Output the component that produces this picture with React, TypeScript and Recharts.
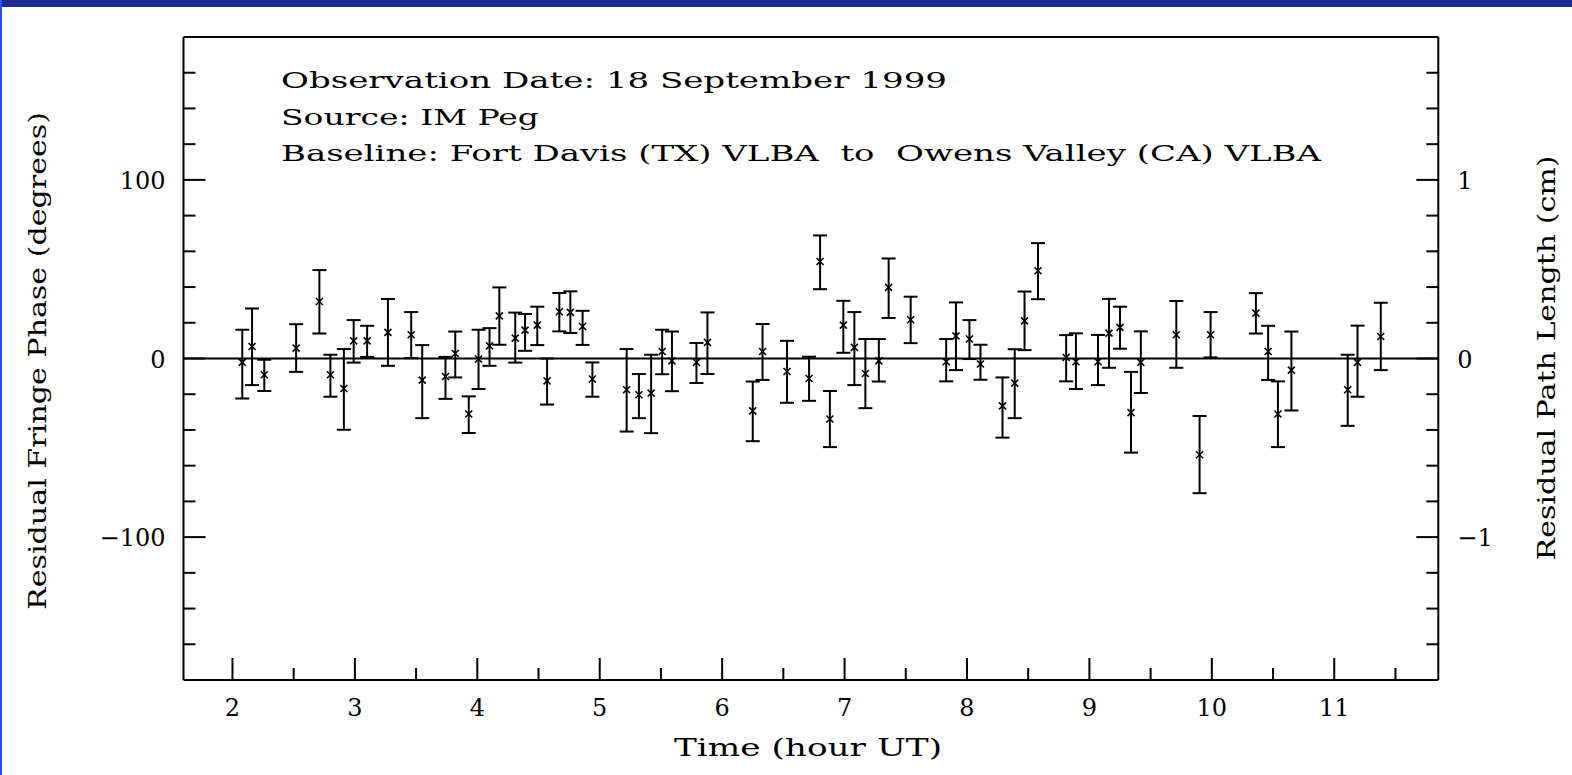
import React from 'react';
import { ScatterChart, Scatter, XAxis, YAxis, ErrorBar, ReferenceLine } from 'recharts';

// Observation times (hour UT)
const times = [2.08, 2.16, 2.26, 2.52, 2.71, 2.80, 2.91, 2.99, 3.10, 3.27, 3.46, 3.55, 3.74, 3.82, 3.93, 4.01, 4.10, 4.18, 4.31, 4.39, 4.49, 4.57, 4.67, 4.76, 4.86, 4.94, 5.22, 5.32, 5.42, 5.51, 5.59, 5.79, 5.88, 6.25, 6.33, 6.53, 6.71, 6.80, 6.88, 6.99, 7.08, 7.17, 7.28, 7.36, 7.54, 7.83, 7.91, 8.02, 8.11, 8.29, 8.39, 8.47, 8.58, 8.81, 8.89, 9.07, 9.16, 9.25, 9.34, 9.42, 9.71, 9.90, 9.99, 10.36, 10.46, 10.54, 10.65, 11.11, 11.19, 11.38];

// Residual fringe phase (degrees)
const phases = [-2.2, 6.7, -9.1, 5.8, 31.9, -9.1, -16.8, 9.9, 9.9, 14.6, 13.3, -12.1, -10.1, 2.8, -31.1, -0.3, 7.1, 23.9, 11.4, 15.9, 18.7, -12.5, 26.2, 25.8, 17.9, -11.5, -17.5, -20.3, -19.4, 3.9, -1.3, -2.2, 9.0, -29.3, 3.9, -7.3, -11.2, 54.3, -33.9, 18.7, 6.2, -8.4, -1.3, 39.8, 21.7, -1.8, 12.7, 10.9, -3.1, -26.5, -13.8, 21.1, 49.1, 0.6, -1.8, -1.8, 14.2, 17.4, -30.3, -2.2, 13.3, -53.9, 13.3, 25.4, 3.9, -31.1, -6.5, -17.5, -2.2, 12.3];

// Error bar extents (degrees) below and above each point
const errMinus = [20.2, 21.6, 9.1, 13.3, 17.9, 12.3, 23.1, 12.2, 9.0, 18.7, 13.1, 21.3, 12.5, 13.4, 10.6, 16.8, 11.2, 16.2, 13.7, 11.6, 11.2, 13.3, 11.0, 11.5, 10.3, 9.9, 23.4, 13.1, 22.4, 12.7, 17.0, 11.5, 17.7, 17.0, 15.9, 17.5, 12.5, 15.5, 15.7, 15.5, 21.1, 19.4, 11.6, 17.1, 13.1, 11.0, 19.2, 11.2, 8.8, 17.8, 19.6, 16.4, 15.9, 13.4, 15.3, 13.1, 19.4, 11.9, 22.4, 17.1, 18.5, 21.5, 12.7, 11.4, 15.9, 18.5, 22.6, 20.2, 19.2, 18.8];
const errPlus = [18.3, 21.3, 8.4, 13.4, 17.6, 11.2, 22.1, 11.6, 8.4, 18.7, 12.7, 19.6, 11.0, 12.3, 9.9, 16.4, 9.9, 15.9, 14.3, 9.0, 10.3, 12.5, 10.5, 11.8, 8.8, 9.3, 22.8, 11.6, 21.5, 12.2, 16.4, 10.9, 16.8, 16.4, 15.4, 17.2, 12.2, 14.6, 15.7, 13.6, 19.8, 19.3, 12.2, 16.2, 12.9, 12.7, 18.7, 10.6, 10.8, 15.9, 19.0, 16.4, 15.5, 12.5, 15.9, 15.0, 19.2, 11.6, 22.8, 17.4, 18.9, 21.7, 12.7, 11.2, 14.4, 18.3, 21.6, 19.6, 20.6, 18.9];

// Axis ticks
const xTicks = [2, 2.5, 3, 3.5, 4, 4.5, 5, 5.5, 6, 6.5, 7, 7.5, 8, 8.5, 9, 9.5, 10, 10.5, 11, 11.5];
const xLabelTicks = [2, 3, 4, 5, 6, 7, 8, 9, 10, 11];
const degTicks = [-160, -140, -120, -100, -80, -60, -40, -20, 0, 20, 40, 60, 80, 100, 120, 140, 160];
const degLabels: Record<string, string> = { '-100': '\u2212100', '0': '0', '100': '100' };
const cmTicks = [-1.6, -1.4, -1.2, -1, -0.8, -0.6, -0.4, -0.2, 0, 0.2, 0.4, 0.6, 0.8, 1, 1.2, 1.4, 1.6];
const cmLabels: Record<string, string> = { '-1': '\u22121', '0': '0', '1': '1' };

const annotations = [
  'Observation Date: 18 September 1999',
  'Source: IM Peg',
  'Baseline: Fort Davis (TX) VLBA  to  Owens Valley (CA) VLBA',
];
const xTitle = 'Time (hour UT)';
const yLeftTitle = 'Residual Fringe Phase (degrees)';
const yRightTitle = 'Residual Path Length (cm)';

const rows = times.map((t, i) => ({ t, phase: phases[i], err: [errMinus[i], errPlus[i]] }));

const FONT = '"DejaVu Serif", "Liberation Serif", serif';
const MAJOR = 22;
const MINOR = 12;
const near = (a: number, b: number) => Math.abs(a - b) < 1e-6;

function BottomTick(props: any) {
  const { x, y, payload } = props;
  const v = payload.value;
  const major = xLabelTicks.some((m) => near(m, v));
  return (
    <g>
      <line x1={x} x2={x} y1={y} y2={y - (major ? MAJOR : MINOR)} stroke="#000" strokeWidth={2} />
      {major && (
        <text x={x} y={y + 36} textAnchor="middle" fontFamily={FONT} fontSize={24} fill="#000">
          {String(v)}
        </text>
      )}
    </g>
  );
}

function TopTick(props: any) {
  const { x, y, payload } = props;
  const v = payload.value;
  const major = xLabelTicks.some((m) => near(m, v));
  return <line x1={x} x2={x} y1={y} y2={y + (major ? MAJOR : MINOR)} stroke="#000" strokeWidth={2} />;
}

function LeftTick(props: any) {
  const { x, y, payload } = props;
  const v = payload.value;
  const key = String(Math.round(v));
  const major = near(v % 100, 0);
  return (
    <g>
      <line x1={x} x2={x + (major ? MAJOR : MINOR)} y1={y} y2={y} stroke="#000" strokeWidth={2} />
      {major && degLabels[key] !== undefined && (
        <text x={x - 18} y={y + 9} textAnchor="end" fontFamily={FONT} fontSize={24} fill="#000">
          {degLabels[key]}
        </text>
      )}
    </g>
  );
}

function RightTick(props: any) {
  const { x, y, payload } = props;
  const v = payload.value;
  const major = near(v, Math.round(v));
  const key = String(Math.round(v));
  return (
    <g>
      <line x1={x} x2={x - (major ? MAJOR : MINOR)} y1={y} y2={y} stroke="#000" strokeWidth={2} />
      {major && cmLabels[key] !== undefined && (
        <text x={x + 19} y={y + 9} textAnchor="start" fontFamily={FONT} fontSize={24} fill="#000">
          {cmLabels[key]}
        </text>
      )}
    </g>
  );
}

function CrossMarker(props: any) {
  const { cx, cy } = props;
  if (cx == null || cy == null) return null;
  const s = 3.5;
  return (
    <g>
      <line x1={cx - s} y1={cy - s} x2={cx + s} y2={cy + s} stroke="#000" strokeWidth={1.6} />
      <line x1={cx - s} y1={cy + s} x2={cx + s} y2={cy - s} stroke="#000" strokeWidth={1.6} />
    </g>
  );
}

const axisLine = { stroke: '#000', strokeWidth: 2 };

export default function App() {
  return (
    <div style={{ position: 'absolute', left: 0, top: 0, width: 1572, height: 775, background: '#fff', overflow: 'hidden' }}>
      <style>{'body{margin:0;background:#fff;}'}</style>
      <ScatterChart width={1572} height={775} margin={{ top: 0, right: 0, bottom: 0, left: 0 }}>
        <XAxis
          xAxisId="b"
          dataKey="t"
          type="number"
          orientation="bottom"
          domain={[1.6, 11.85]}
          allowDataOverflow
          ticks={xTicks}
          interval={0}
          height={95}
          tickSize={0}
          tickMargin={0}
          tickLine={false}
          axisLine={axisLine}
          tick={<BottomTick />}
        />
        <XAxis
          xAxisId="t"
          type="number"
          orientation="top"
          domain={[1.6, 11.85]}
          allowDataOverflow
          ticks={xTicks}
          interval={0}
          height={37}
          tickSize={0}
          tickMargin={0}
          tickLine={false}
          axisLine={axisLine}
          tick={<TopTick />}
        />
        <YAxis
          yAxisId="l"
          dataKey="phase"
          type="number"
          orientation="left"
          domain={[-180, 180]}
          allowDataOverflow
          ticks={degTicks}
          interval={0}
          width={183.5}
          tickSize={0}
          tickMargin={0}
          tickLine={false}
          axisLine={axisLine}
          tick={<LeftTick />}
        />
        <YAxis
          yAxisId="r"
          type="number"
          orientation="right"
          domain={[-1.8, 1.8]}
          allowDataOverflow
          ticks={cmTicks}
          interval={0}
          width={133.7}
          tickSize={0}
          tickMargin={0}
          tickLine={false}
          axisLine={axisLine}
          tick={<RightTick />}
        />
        <ReferenceLine xAxisId="b" yAxisId="l" y={0} stroke="#000" strokeWidth={2} ifOverflow="extendDomain" />
        <Scatter
          xAxisId="b"
          yAxisId="l"
          data={rows}
          dataKey="phase"
          isAnimationActive={false}
          shape={<CrossMarker />}
        >
          <ErrorBar dataKey="err" direction="y" width={7} stroke="#000" strokeWidth={2} isAnimationActive={false} />
        </Scatter>
      </ScatterChart>
      <svg
        width={1572}
        height={775}
        style={{ position: 'absolute', left: 0, top: 0, pointerEvents: 'none' }}
      >
        <g fontFamily={FONT} fill="#000">
          <text x={281} y={88} fontSize={23} textLength={666} lengthAdjust="spacingAndGlyphs" style={{ whiteSpace: 'pre' }}>
            {annotations[0]}
          </text>
          <text x={281} y={124.5} fontSize={23} textLength={258} lengthAdjust="spacingAndGlyphs" style={{ whiteSpace: 'pre' }}>
            {annotations[1]}
          </text>
          <text x={281} y={161} fontSize={23} textLength={1040} lengthAdjust="spacingAndGlyphs" style={{ whiteSpace: 'pre' }}>
            {annotations[2]}
          </text>
          <text x={808} y={756} fontSize={24} textAnchor="middle" textLength={268} lengthAdjust="spacingAndGlyphs">
            {xTitle}
          </text>
          <text
            x={0}
            y={0}
            fontSize={24}
            textAnchor="middle"
            textLength={498}
            lengthAdjust="spacingAndGlyphs"
            transform="translate(46,361) rotate(-90)"
          >
            {yLeftTitle}
          </text>
          <text
            x={0}
            y={0}
            fontSize={24}
            textAnchor="middle"
            textLength={405}
            lengthAdjust="spacingAndGlyphs"
            transform="translate(1555,358) rotate(-90)"
          >
            {yRightTitle}
          </text>
        </g>
      </svg>
      <div style={{ position: 'absolute', left: 0, top: 0, width: 1572, height: 7, background: '#1b2a8c' }} />
      <div style={{ position: 'absolute', left: 0, top: 0, width: 2, height: 775, background: '#2a55ec' }} />
    </div>
  );
}
